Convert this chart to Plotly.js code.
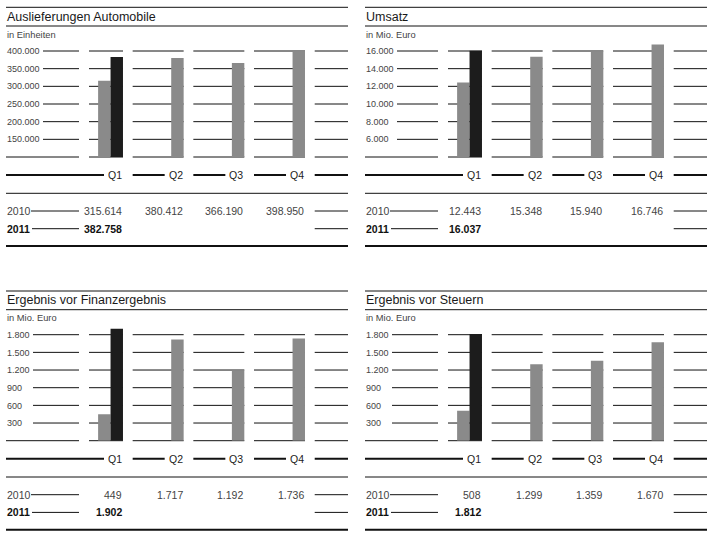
<!DOCTYPE html>
<html>
<head>
<meta charset="utf-8">
<script src="https://cdn.plot.ly/plotly-3.0.1.min.js"></script>
<style>
  html, body { margin: 0; padding: 0; background: #fff; }
  #chart { width: 713px; height: 536px; }
</style>
</head>
<body>
<div id="chart"></div>
<script>
// data
const quarters = ['Q1', 'Q2', 'Q3', 'Q4'];
const years = ['2010', '2011'];

const titles = ['Auslieferungen Automobile', 'Umsatz', 'Ergebnis vor Finanzergebnis', 'Ergebnis vor Steuern'];
const units = ['in Einheiten', 'in Mio. Euro', 'in Mio. Euro', 'in Mio. Euro'];

const deliveries2010 = [315614, 380412, 366190, 398950];
const deliveries2011 = [382758];
const revenue2010 = [12443, 15348, 15940, 16746];
const revenue2011 = [16037];
const ebit2010 = [449, 1717, 1192, 1736];
const ebit2011 = [1902];
const ebt2010 = [508, 1299, 1359, 1670];
const ebt2011 = [1812];

const deliveriesTicks = [150000, 200000, 250000, 300000, 350000, 400000];
const revenueTicks = [6000, 8000, 10000, 12000, 14000, 16000];
const earningsTicks = [300, 600, 900, 1200, 1500, 1800];

(function () {
  const W = 713, H = 536;
  const FONT = 'Liberation Sans, Arial, sans-serif';
  const GREY = '#8a8a8a';
  const DARK = '#1c1c1c';

  // paper coords from pixels
  const px = function (x) { return x / W; };
  const py = function (y) { return 1 - y / H; };

  // german number format, 315614 -> 315.614
  const fmt = function (v) {
    return String(v).replace(/\B(?=(\d{3})+(?!\d))/g, '.');
  };

  const panels = [
    {v10: deliveries2010, v11: deliveries2011, ticks: deliveriesTicks},
    {v10: revenue2010, v11: revenue2011, ticks: revenueTicks},
    {v10: ebit2010, v11: ebit2011, ticks: earningsTicks},
    {v10: ebt2010, v11: ebt2011, ticks: earningsTicks}
  ];

  // panel geometry (pixels, relative to panel left / top)
  const panelW = 342;
  const pitch = 60.67;
  const colRight = [117, 117 + pitch, 117 + 2 * pitch, 117 + 3 * pitch];
  const colW = 51;
  const q1Center = colRight[0] - colW / 2;
  const labelColEnd = 73;
  const lastColStart = colRight[3] + 9.7;
  const gridStep = 17.667;
  const baseY = 157, topY = 40;

  const traces = [];
  const shapes = [];
  const annotations = [];
  const layout = {
    width: W,
    height: H,
    margin: {l: 0, r: 0, t: 0, b: 0},
    paper_bgcolor: '#fff',
    plot_bgcolor: 'rgba(0,0,0,0)',
    showlegend: false,
    barmode: 'overlay',
    separators: ',.',
    font: {family: FONT, color: '#333'}
  };

  const hline = function (y0, xa, xb, width) {
    shapes.push({
      type: 'line', xref: 'paper', yref: 'paper', layer: 'below',
      x0: px(xa), x1: px(xb), y0: py(y0), y1: py(y0),
      line: {color: '#111', width: width || 1}
    });
  };

  const text = function (str, x, y, anchor, size, bold, color) {
    annotations.push({
      text: bold ? '<b>' + str + '</b>' : str,
      xref: 'paper', yref: 'paper',
      x: px(x), y: py(y),
      xanchor: anchor, yanchor: 'middle',
      showarrow: false,
      font: {size: size, color: color || '#333', family: FONT}
    });
  };

  panels.forEach(function (p, k) {
    const left = 6 + 359 * (k % 2);
    const top = 283.7 * Math.floor(k / 2);
    const n = k + 1;
    const xName = 'x' + (n === 1 ? '' : n);
    const yName = 'y' + (n === 1 ? '' : n);
    const step = p.ticks[1] - p.ticks[0];
    const base = p.ticks[0] - step;

    // axes
    layout['xaxis' + (n === 1 ? '' : n)] = {
      type: 'category',
      domain: [px(left), px(left + panelW)],
      range: [-q1Center / pitch, (panelW - q1Center) / pitch],
      anchor: yName,
      showgrid: false, zeroline: false, showline: false,
      showticklabels: false, ticks: '', fixedrange: true
    };
    layout['yaxis' + (n === 1 ? '' : n)] = {
      domain: [py(top + baseY), py(top + topY)],
      range: [base, base + step * (baseY - topY) / gridStep],
      anchor: xName,
      tickvals: p.ticks,
      tickformat: ',d',
      ticklabelposition: 'inside',
      ticklabelstandoff: -2,
      ticks: '',
      showgrid: false, zeroline: false, showline: false,
      tickfont: {size: 9, color: '#444', family: FONT},
      fixedrange: true
    };

    // bars: 2010 grey, 2011 black
    const barW = 0.205;
    traces.push({
      type: 'bar', name: years[0], x: quarters, y: p.v10,
      xaxis: xName, yaxis: yName,
      width: barW,
      offset: quarters.map(function (q, i) { return i === 0 ? 0.01 : 0.215; }),
      marker: {color: GREY, line: {width: 0}},
      hoverinfo: 'none'
    });
    traces.push({
      type: 'bar', name: years[1], x: quarters.slice(0, p.v11.length), y: p.v11,
      xaxis: xName, yaxis: yName,
      width: barW, offset: 0.215,
      marker: {color: DARK, line: {width: 0}},
      hoverinfo: 'none'
    });

    // segmented grid lines at the tick values
    const longest = Math.max.apply(null, p.ticks.map(function (t) { return fmt(t).length; }));
    const labelStart = longest * 5 + 2;
    const segments = function (startCol0) {
      const segs = [[startCol0, labelColEnd], [labelColEnd + 10, colRight[0]]];
      for (let i = 1; i < 4; i++) segs.push([colRight[i] - colW, colRight[i]]);
      segs.push([lastColStart, panelW]);
      return segs;
    };
    p.ticks.forEach(function (t) {
      segments(labelStart).forEach(function (s) {
        shapes.push({
          type: 'line', xref: 'paper', yref: yName, layer: 'below',
          x0: px(left + s[0]), x1: px(left + s[1]), y0: t, y1: t,
          line: {color: '#111', width: 1}
        });
      });
    });
    // baseline row (no label), sits on the domain edge so drawn in paper coords
    segments(0).forEach(function (s) {
      hline(top + baseY, left + s[0], left + s[1], 1);
    });

    // rules and headings
    hline(top + 7.3, left, left + panelW, 1);
    text(titles[k], left - 1, top + 16.7, 'left', 12.5, false, '#1a1a1a');
    hline(top + 26, left, left + panelW, 1);
    text(units[k], left - 1, top + 34.5, 'left', 9.3, false, '#444');

    // quarter row
    quarters.forEach(function (q, i) {
      const start = i === 0 ? 0 : colRight[i] - colW;
      hline(top + 175, left + start, left + colRight[i] - 19, 2);
      text(q, left + colRight[i] + 1, top + 175, 'right', 10.5, false, '#222');
    });
    hline(top + 175, left + lastColStart, left + panelW, 2);

    // value table
    hline(top + 193.3, left, left + panelW, 1);
    const rows = [p.v10, p.v11];
    rows.forEach(function (vals, r) {
      const y = top + 211 + r * 17.7;
      text(years[r], left - 1, y, 'left', 10.5, r === 1, r === 1 ? '#111' : '#444');
      hline(y, left + 25 + r, left + labelColEnd, 1);
      vals.forEach(function (v, i) {
        text(fmt(v), left + colRight[i] + 1, y, 'right', 10.5, r === 1, r === 1 ? '#111' : '#444');
      });
      hline(y, left + lastColStart, left + panelW, 1);
    });
    hline(top + 246, left, left + panelW, 2);
  });

  layout.shapes = shapes;
  layout.annotations = annotations;

  Plotly.newPlot('chart', traces, layout, {staticPlot: true, displayModeBar: false});
})();
</script>
</body>
</html>
